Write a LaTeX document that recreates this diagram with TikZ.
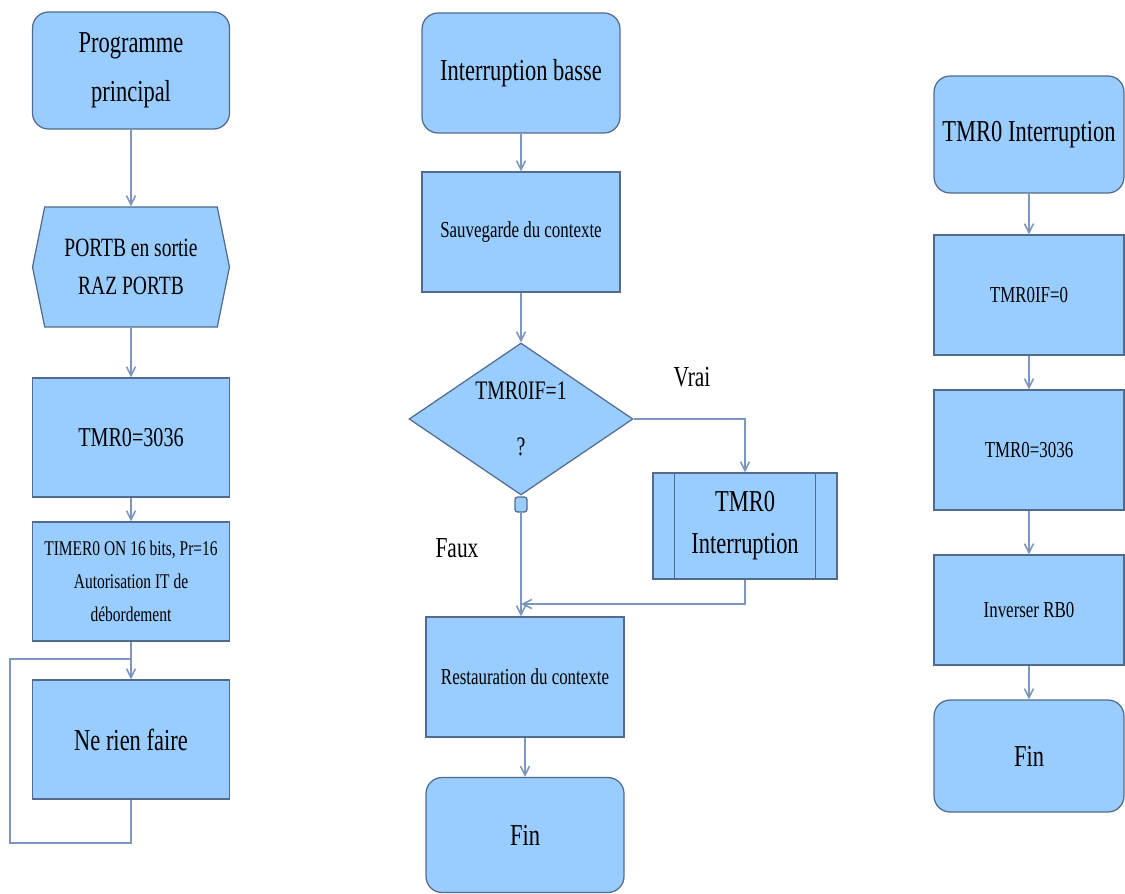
\documentclass[tikz,border=0pt]{standalone}
\usepackage{fontspec}
\setmainfont{Liberation Serif}[FakeStretch=0.74]
\usetikzlibrary{shapes.geometric,shapes.symbols,arrows.meta}
\definecolor{boxfill}{RGB}{153,204,255}
\definecolor{boxline}{RGB}{82,106,140}
\definecolor{flowline}{RGB}{125,150,190}

\begin{document}
\begin{tikzpicture}[x=0.02cm, y=-0.02cm,
		box/.style={draw=boxline, fill=boxfill, line width=0.7pt, minimum width=3.94cm, minimum height=2.38cm, align=center, inner sep=2pt},
		term/.style={box, rounded corners=0.32cm},
		hexa/.style={box, signal, signal to=east and west, signal pointer angle=157},
		test/.style={box, diamond, aspect=1.47, inner sep=0pt, minimum width=4.48cm, minimum height=3.04cm},
		flow/.style={draw=flowline, line width=0.9pt, -{Straight Barb[length=1.8mm,width=1.8mm]}},
		back/.style={draw=flowline, line width=0.9pt},
		txtbig/.style={font=\fontsize{17.3}{28}\selectfont},
		txtmid/.style={font=\fontsize{15}{21.5}\selectfont},
		txtsmall/.style={font=\fontsize{13}{18}\selectfont},
		txttiny/.style={font=\fontsize{11.9}{18.7}\selectfont}]
		%%%%% START %%%%%
		\useasboundingbox (0, 0) rectangle (1125, 893);
		
		% programme principal
		\node[term, txtbig, minimum height=2.34cm] (prog) at (131, 70.5) {Programme\\principal};
		\node[hexa, txtmid, minimum height=2.4cm] (init) at (131, 267) {PORTB en sortie\\RAZ PORTB};
		\node[box, font=\fontsize{15.5}{18}\selectfont] (tmrA) at (131, 437.5) {TMR0=3036};
		\node[box, txttiny] (cfg) at (131, 581.5) {TIMER0 ON 16 bits, Pr=16\\Autorisation IT de\\débordement};
		\node[box, txtbig] (rien) at (131, 739.5) {Ne rien faire};
		
		\coordinate (loopA) at (131, 843);
		\coordinate (loopB) at (10, 843);
		\coordinate (loopC) at (10, 659);
		\coordinate (loopD) at (131, 659);
		
		\draw[flow] (prog) -- (init);
		\draw[flow] (init) -- (tmrA);
		\draw[flow] (tmrA) -- (cfg);
		\draw[flow] (cfg) -- (rien);
		\draw[back] (rien) -- (loopA) -- (loopB) -- (loopC) -- (loopD);
		
		% interruption basse
		\node[term, txtbig, minimum width=3.96cm, minimum height=2.4cm] (basse) at (521, 73) {Interruption basse};
		\node[box, txtsmall, minimum width=3.96cm, minimum height=2.4cm] (sauve) at (521, 232) {Sauvegarde du contexte};
		\node[test, font=\fontsize{15.2}{32}\selectfont] (tst) at (521, 419) {TMR0IF=1\\?};
		\node[box, rounded corners=1.5pt, minimum width=0.24cm, minimum height=0.3cm, inner sep=0pt] (conn) at (521, 504.5) {};
		\node[box, font=\fontsize{17.3}{24}\selectfont, minimum width=3.68cm, minimum height=2.12cm] (tmrint) at (745, 526) {TMR0\\Interruption};
		\draw[boxline, line width=0.7pt] ([xshift=0.44cm]tmrint.north west) -- ([xshift=0.44cm]tmrint.south west);
		\draw[boxline, line width=0.7pt] ([xshift=-0.44cm]tmrint.north east) -- ([xshift=-0.44cm]tmrint.south east);
		\node[box, txtsmall, minimum width=3.96cm, minimum height=2.4cm] (resto) at (525, 677) {Restauration du contexte};
		\node[term, txtbig, minimum width=3.96cm, minimum height=2.3cm] (finA) at (525, 835) {Fin};
		
		\node[font=\fontsize{16.5}{18}\selectfont] (vrai) at (692, 377) {Vrai};
		\node[font=\fontsize{16.5}{18}\selectfont] (faux) at (457, 548) {Faux};
		\coordinate (join) at (521, 604);
		
		\draw[flow] (basse) -- (sauve);
		\draw[flow] (sauve) -- (tst);
		\draw[flow] (tst.east) -- (tst.east -| tmrint.north) -- (tmrint.north);
		\draw[flow] (tmrint.south) -- (tmrint.south |- join) -- (join);
		\draw[flow] (conn.south) -- (conn.south |- resto.north);
		\draw[flow] (resto.south -| finA.north) -- (finA.north);
		
		% TMR0 interruption
		\node[term, txtbig, minimum width=3.8cm, minimum height=2.34cm] (tmrit) at (1029, 134.5) {TMR0 Interruption};
		\node[box, txtsmall, minimum width=3.8cm, minimum height=2.4cm] (clr) at (1029, 295) {TMR0IF=0};
		\node[box, txtsmall, minimum width=3.8cm, minimum height=2.4cm] (rel) at (1029, 450) {TMR0=3036};
		\node[box, txtsmall, minimum width=3.8cm, minimum height=2.2cm] (inv) at (1029, 610) {Inverser RB0};
		\node[term, txtbig, minimum width=3.8cm, minimum height=2.24cm] (finB) at (1029, 756) {Fin};
		
		\draw[flow] (tmrit) -- (clr);
		\draw[flow] (clr) -- (rel);
		\draw[flow] (rel) -- (inv);
		\draw[flow] (inv) -- (finB);
		
		%%%%% END %%%%%
	\end{tikzpicture}
\end{document}
